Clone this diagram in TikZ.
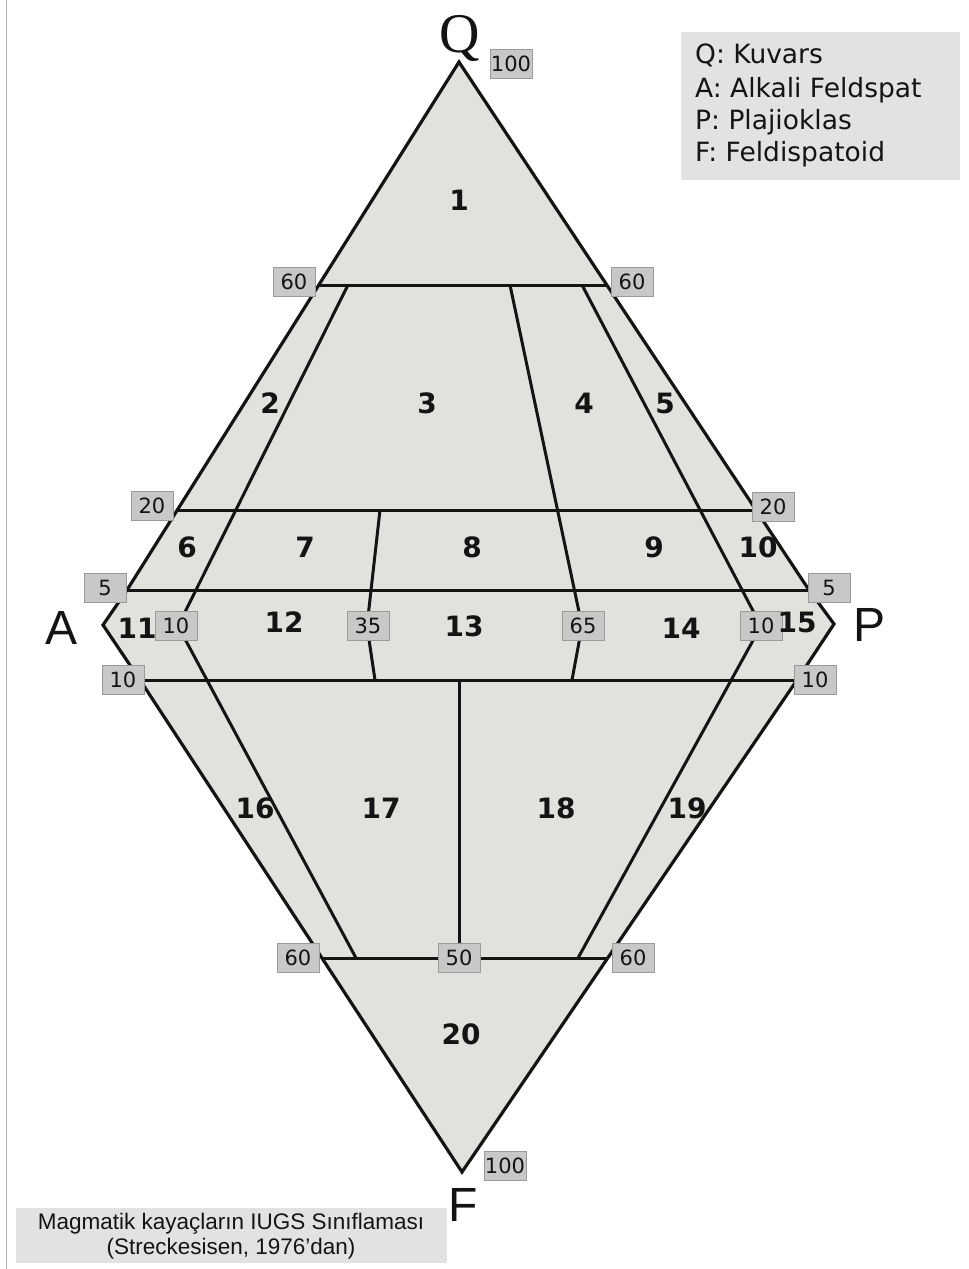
\documentclass[tikz,border=0pt]{standalone}
\usepackage{fontspec}
\setmainfont{DejaVu Sans}
\newfontfamily\arialf{Liberation Sans}
\newfontfamily\timesf{Liberation Serif}
\definecolor{diagfill}{HTML}{E1E1DD}
\definecolor{boxfill}{HTML}{C8C8C8}
\definecolor{boxdraw}{HTML}{9A9A9A}
\definecolor{linec}{HTML}{141414}
\definecolor{legfill}{HTML}{E2E2E2}
\definecolor{framec}{HTML}{B0B0B0}
\tikzset{
  edge/.style={line width=3pt, draw=linec},
  outline/.style={line width=3.2pt, draw=linec, line join=miter},
  val/.style={fill=boxfill, draw=boxdraw, line width=0.8pt, font=\fontsize{21}{21}\selectfont, minimum width=42pt, minimum height=29pt, inner sep=0.5pt, text=linec},
  fld/.style={font=\fontsize{28}{28}\selectfont\bfseries, text=linec},
  apexl/.style={font=\arialf\fontsize{48}{48}\selectfont, text=linec},
  legl/.style={anchor=base west, font=\fontsize{26.5}{26.5}\selectfont, text=linec, inner sep=0pt},
}
\begin{document}
\begin{tikzpicture}[x=1pt,y=-1pt]
\useasboundingbox (0,0) rectangle (969,1269);
\draw[framec, line width=1pt] (6,0) -- (6,1269);
% outer vertices
\coordinate (Q) at (459,62);
\coordinate (R5) at (809,590);
\coordinate (P) at (834,624);
\coordinate (R10) at (797,680);
\coordinate (F) at (462,1172);
\coordinate (L10) at (140,680);
\coordinate (A) at (103,625);
\coordinate (L5) at (127,590);
% horizontal line ends
\coordinate (L60) at (319,285);
\coordinate (R60) at (607,285);
\coordinate (L20) at (177,510);
\coordinate (R20) at (756,510);
\coordinate (LB60) at (322,958);
\coordinate (RB60) at (608,958);
% inner points
\coordinate (a1) at (348,285);
\coordinate (a2) at (178,626);
\coordinate (a3) at (356,958);
\coordinate (b1) at (510,285);
\coordinate (b2) at (582,626);
\coordinate (b3) at (572,680);
\coordinate (c1) at (582,285);
\coordinate (c2) at (761,626);
\coordinate (c3) at (578,958);
\coordinate (d1) at (380,510);
\coordinate (d2) at (367,626);
\coordinate (d3) at (375,680);
\coordinate (e1) at (459,680);
\coordinate (e2) at (459,958);
% fill
\fill[diagfill] (Q) -- (R5) -- (P) -- (R10) -- (F) -- (L10) -- (A) -- (L5) -- cycle;
% inner lines
\draw[edge] (L60) -- (R60);
\draw[edge] (L20) -- (R20);
\draw[edge] (L5) -- (R5);
\draw[edge] (L10) -- (R10);
\draw[edge] (LB60) -- (RB60);
\draw[edge] (a1) -- (a2) -- (a3);
\draw[edge] (b1) -- (b2) -- (b3);
\draw[edge] (c1) -- (c2) -- (c3);
\draw[edge] (d1) -- (d2) -- (d3);
\draw[edge] (e1) -- (e2);
% outline
\draw[outline] (Q) -- (R5) -- (P) -- (R10) -- (F) -- (L10) -- (A) -- (L5) -- cycle;
% value boxes
\node[val] (v100t) at (511,64) {100};
\node[val] (v60l) at (294,282) {60};
\node[val] (v60r) at (632,282) {60};
\node[val] (v20l) at (152,506) {20};
\node[val] (v20r) at (773,507) {20};
\node[val] (v5l) at (105,588) {5};
\node[val] (v5r) at (829,588) {5};
\node[val] (v10a) at (176,626) {10};
\node[val] (v35) at (368,626) {35};
\node[val] (v65) at (583,626) {65};
\node[val] (v10b) at (761,626) {10};
\node[val] (v10l) at (123,680) {10};
\node[val] (v10r) at (815,680) {10};
\node[val] (v60bl) at (298,958) {60};
\node[val] (v50) at (459,958) {50};
\node[val] (v60br) at (633,958) {60};
\node[val] (v100b) at (505,1166) {100};
% field numbers
\node[fld] (f1) at (459,200) {1};
\node[fld] (f2) at (270,403) {2};
\node[fld] (f3) at (427,403) {3};
\node[fld] (f4) at (584,403) {4};
\node[fld] (f5) at (665,403) {5};
\node[fld] (f6) at (187,547) {6};
\node[fld] (f7) at (305,547) {7};
\node[fld] (f8) at (472,547) {8};
\node[fld] (f9) at (654,547) {9};
\node[fld] (f10) at (758,547) {10};
\node[fld] (f11) at (137,628) {11};
\node[fld] (f12) at (284,622) {12};
\node[fld] (f13) at (464,626) {13};
\node[fld] (f14) at (681,628) {14};
\node[fld] (f15) at (797,622) {15};
\node[fld] (f16) at (255,808) {16};
\node[fld] (f17) at (381,808) {17};
\node[fld] (f18) at (556,808) {18};
\node[fld] (f19) at (687,808) {19};
\node[fld] (f20) at (461,1034) {20};
% apex letters
\node[font=\timesf\fontsize{56}{56}\selectfont, text=linec, anchor=base] (lq) at (460,52) {Q};
\node[apexl] (la) at (62,628) {A};
\node[apexl] (lp) at (869,625) {P};
\node[apexl] (lf) at (463,1205) {F};
% legend
\fill[legfill] (681,32) rectangle (960,180);
\node[legl] (lg1) at (695,63) {Q: Kuvars};
\node[legl] (lg2) at (695,97) {A: Alkali Feldspat};
\node[legl] (lg3) at (695,129) {P: Plajioklas};
\node[legl] (lg4) at (695,161) {F: Feldispatoid};
% caption
\fill[legfill] (16,1208) rectangle (447,1263);
\node[font=\arialf\fontsize{22.5}{25}\selectfont, align=center, text=linec] (cap) at (231,1236) {Magmatik kayaçların IUGS Sınıflaması\\(Streckesisen, 1976’dan)};
\end{tikzpicture}
\end{document}
